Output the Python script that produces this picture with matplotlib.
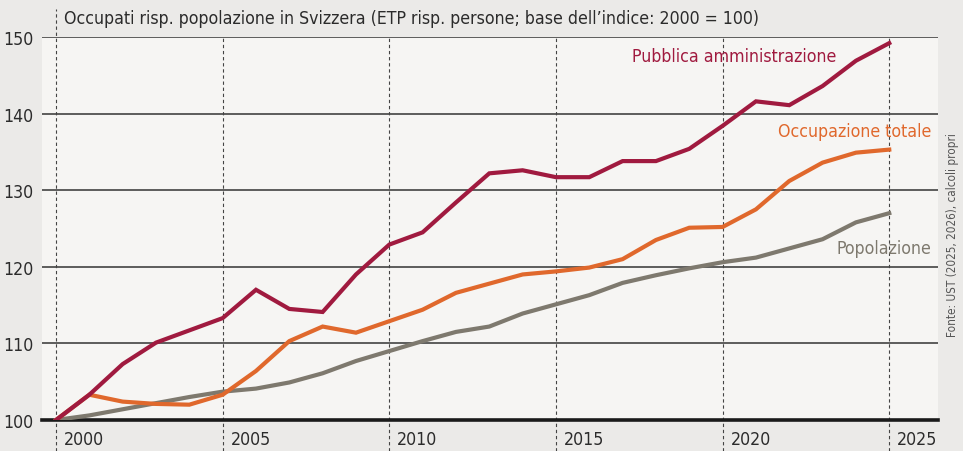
import matplotlib
matplotlib.use("Agg")
import matplotlib.pyplot as plt
import matplotlib.transforms as mtransforms
from matplotlib import font_manager

# cerca un carattere stretto (come nell'originale), altrimenti DejaVu più piccolo
narrow = None
for f in font_manager.fontManager.ttflist:
    n = (f.name + ' ' + f.fname).lower()
    if f.stretch in ('condensed', 'semi-condensed', 575) or 'condensed' in n or 'narrow' in n:
        if f.style == 'normal' and f.weight in (400, 'normal', 'regular'):
            narrow = f
            break

if narrow is not None:
    plt.rcParams['font.family'] = [narrow.name, 'DejaVu Sans']
    plt.rcParams['font.stretch'] = narrow.stretch
    fs = 12.7
else:
    plt.rcParams['font.family'] = ['DejaVu Sans']
    fs = 10.5

years = list(range(2000, 2026))

# indice 2000 = 100
pubblica = [100, 103.3, 107.3, 110.1, 111.7, 113.3, 117.0, 114.5, 114.1, 119.0,
            122.9, 124.5, 128.4, 132.2, 132.6, 131.7, 131.7, 133.8, 133.8, 135.4,
            138.4, 141.6, 141.1, 143.6, 146.9, 149.2]
totale = [100, 103.3, 102.4, 102.1, 102.0, 103.3, 106.4, 110.3, 112.2, 111.4,
          112.9, 114.4, 116.6, 117.8, 119.0, 119.4, 119.9, 121.0, 123.5, 125.1,
          125.2, 127.5, 131.2, 133.6, 134.9, 135.3]
popolazione = [100, 100.6, 101.4, 102.2, 103.0, 103.7, 104.1, 104.9, 106.1, 107.7,
               109.0, 110.3, 111.5, 112.2, 113.9, 115.1, 116.3, 117.9, 118.9, 119.8,
               120.6, 121.2, 122.4, 123.6, 125.8, 127.0]

yticks = [100, 110, 120, 130, 140, 150]
xlabels = [2000, 2005, 2010, 2015, 2020, 2025]

c_red = '#a01a3f'
c_orange = '#e0682c'
c_grey = '#7e796e'
bg_out = '#ebeae8'
bg_in = '#f6f5f3'
txt = '#2b2b2b'

fig = plt.figure(figsize=(9.63, 4.52), dpi=100)
fig.patch.set_facecolor(bg_out)
W, H = 963, 452
x0, x1, ytop, ybot = 42, 938, 38, 421
ax = fig.add_axes([x0 / W, (H - ybot) / H, (x1 - x0) / W, (ybot - ytop) / H])
ax.set_facecolor(bg_in)

ax.set_xlim(2000 - 14 / 33.33, 2000 + (x1 - 56) / 33.33)
ax.set_ylim(100, 150)

for s in ax.spines.values():
    s.set_visible(False)

for v in yticks[1:]:
    ax.axhline(v, color='#505050', lw=1.3, zorder=1)
ax.axhline(100, color='#1a1a1a', lw=2.6, zorder=4, clip_on=False)

trans = mtransforms.blended_transform_factory(ax.transData, ax.transAxes)
below = -(H - ybot) / (ybot - ytop)
for yr in xlabels:
    top = 1.0 if yr != 2000 else (ybot - 10) / (ybot - ytop)
    ax.plot([yr, yr], [below, top], transform=trans, color='#444444', lw=0.8,
            ls=(0, (3, 2.5)), clip_on=False, zorder=2)
    ax.text(yr + 0.24, (ybot - 440) / (ybot - ytop), str(yr), transform=trans,
            ha='left', va='center', fontsize=fs, color=txt)

ax.plot(years, popolazione, color=c_grey, lw=3, zorder=5, solid_joinstyle='miter')
ax.plot(years, totale, color=c_orange, lw=3, zorder=6, solid_joinstyle='miter')
ax.plot(years, pubblica, color=c_red, lw=3, zorder=7, solid_joinstyle='miter')

ax.set_xticks([])
ax.set_yticks(yticks)
ax.set_yticklabels([str(v) for v in yticks], fontsize=fs, color=txt)
ax.tick_params(axis='y', length=0, pad=6)

fig.text(836 / W, 1 - 57 / H, 'Pubblica amministrazione', color=c_red, fontsize=fs,
         ha='right', va='center')
fig.text(931 / W, 1 - 132 / H, 'Occupazione totale', color=c_orange, fontsize=fs,
         ha='right', va='center')
fig.text(931 / W, 1 - 249 / H, 'Popolazione', color=c_grey, fontsize=fs,
         ha='right', va='center')

fig.text(64 / W, 1 - 19 / H,
         "Occupati risp. popolazione in Svizzera (ETP risp. persone; base dell\u2019indice: 2000 = 100)",
         fontsize=fs, color=txt, ha='left', va='center')
fig.text(952 / W, 1 - 235 / H, 'Fonte: UST (2025, 2026), calcoli propri', rotation=90,
         fontsize=8.4, color='#555555', ha='center', va='center')

fig.savefig('out.png', dpi=100, facecolor=bg_out)
